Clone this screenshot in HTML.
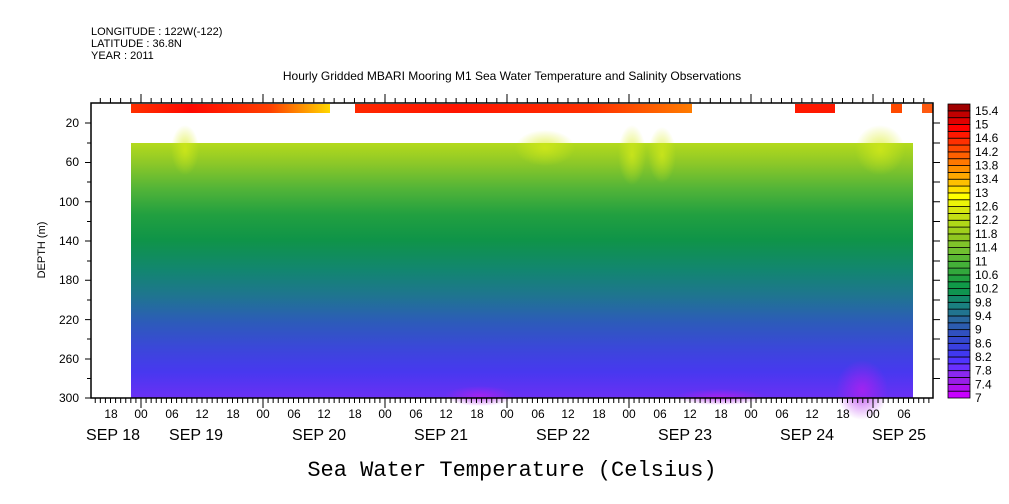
<!DOCTYPE html>
<html><head><meta charset="utf-8"><style>
body{margin:0;background:#fff;}
svg{display:block;font-family:"Liberation Sans",sans-serif;}
</style></head><body>
<svg width="1009" height="504" viewBox="0 0 1009 504" xmlns="http://www.w3.org/2000/svg">
<defs>
<linearGradient id="g" x1="0" y1="143" x2="0" y2="398" gradientUnits="userSpaceOnUse">
<stop offset="0" stop-color="#b4da1c"/>
<stop offset="0.08" stop-color="#8cc828"/>
<stop offset="0.18" stop-color="#52b438"/>
<stop offset="0.28" stop-color="#22a040"/>
<stop offset="0.38" stop-color="#0f9448"/>
<stop offset="0.5" stop-color="#128670"/>
<stop offset="0.6" stop-color="#1f7590"/>
<stop offset="0.7" stop-color="#2c5cb8"/>
<stop offset="0.8" stop-color="#3a48d8"/>
<stop offset="0.9" stop-color="#4838f0"/>
<stop offset="1" stop-color="#6a30f4"/>
</linearGradient>
<linearGradient id="s" x1="0" y1="0" x2="1" y2="0">
<stop offset="0" stop-color="#ff3000"/><stop offset="0.3" stop-color="#ff0800"/>
<stop offset="0.7" stop-color="#ff4000"/><stop offset="1" stop-color="#ffd800"/>
</linearGradient>
<radialGradient id="pp"><stop offset="0" stop-color="#b020f0" stop-opacity="0.8"/><stop offset="1" stop-color="#b020f0" stop-opacity="0"/></radialGradient>
<radialGradient id="yy"><stop offset="0" stop-color="#d8ec18" stop-opacity="0.7"/><stop offset="1" stop-color="#d8ec18" stop-opacity="0"/></radialGradient>
</defs>
<text x="91" y="35" font-size="11">LONGITUDE : 122W(-122)</text>
<text x="91" y="47" font-size="11">LATITUDE : 36.8N</text>
<text x="91" y="59" font-size="11">YEAR : 2011</text>
<text x="512" y="80" font-size="12" text-anchor="middle">Hourly Gridded MBARI Mooring M1 Sea Water Temperature and Salinity Observations</text>
<rect x="131" y="143" width="782" height="255" fill="url(#g)"/>
<ellipse cx="185" cy="150" rx="14" ry="25" fill="url(#yy)"/>
<ellipse cx="545" cy="148" rx="30" ry="18" fill="url(#yy)"/>
<ellipse cx="632" cy="155" rx="14" ry="30" fill="url(#yy)"/>
<ellipse cx="662" cy="155" rx="14" ry="28" fill="url(#yy)"/>
<ellipse cx="880" cy="150" rx="25" ry="25" fill="url(#yy)"/>
<ellipse cx="862" cy="390" rx="26" ry="30" fill="url(#pp)"/>
<ellipse cx="480" cy="396" rx="35" ry="10" fill="url(#pp)"/>
<ellipse cx="720" cy="397" rx="45" ry="8" fill="url(#pp)"/>
<rect x="131" y="104" width="199" height="9" fill="url(#s)"/>
<rect x="355" y="104" width="337" height="9" fill="#ff2000"/>
<rect x="355" y="104" width="337" height="9" fill="url(#s)" opacity="0.5"/>
<rect x="795" y="104" width="40" height="9" fill="#ff1800"/>
<rect x="891" y="104" width="11" height="9" fill="#ff4a00"/>
<rect x="922" y="104" width="11" height="9" fill="#ff5a10"/>
<rect x="91" y="103" width="842" height="295" fill="none" stroke="#000" stroke-width="1.5"/>
<g stroke="#000" stroke-width="1">
<path d="M85 123H91M85 162.5H91M85 201.7H91M85 241H91M85 280.3H91M85 319.6H91M85 359H91M85 398H91
M87 143H91M87 182H91M87 221.5H91M87 261H91M87 300H91M87 339H91M87 378.5H91
M933 123H940M933 143H940M933 162.5H940M933 182H940M933 201.7H940M933 221.5H940M933 241H940M933 261H940M933 280.3H940M933 300H940M933 319.6H940M933 339H940M933 359H940M933 378.5H940"/>
<line x1="94.75" y1="400.5" x2="933" y2="400.5" stroke-width="5" stroke-dasharray="1 4.083"/>
<line x1="99.8" y1="100.5" x2="933" y2="100.5" stroke-width="5" stroke-dasharray="1 9.167"/>
<path d="M141 398V408M263 398V408M385 398V408M507 398V408M629 398V408M751 398V408M873 398V408
M141 103V94M263 103V94M385 103V94M507 103V94M629 103V94M751 103V94M873 103V94"/>
</g>
<g font-size="12" text-anchor="end">
<text x="79" y="127">20</text><text x="79" y="166">60</text><text x="79" y="206">100</text>
<text x="79" y="245">140</text><text x="79" y="284">180</text><text x="79" y="324">220</text>
<text x="79" y="363">260</text><text x="79" y="402">300</text>
</g>
<text transform="translate(45,250) rotate(-90)" font-size="11" text-anchor="middle">DEPTH (m)</text>
<g font-size="12" text-anchor="middle">
<text x="111" y="418">18</text><text x="141" y="418">00</text><text x="172" y="418">06</text><text x="202" y="418">12</text><text x="233" y="418">18</text>
<text x="263" y="418">00</text><text x="294" y="418">06</text><text x="324" y="418">12</text><text x="355" y="418">18</text>
<text x="385" y="418">00</text><text x="416" y="418">06</text><text x="446" y="418">12</text><text x="477" y="418">18</text>
<text x="507" y="418">00</text><text x="538" y="418">06</text><text x="568" y="418">12</text><text x="599" y="418">18</text>
<text x="629" y="418">00</text><text x="660" y="418">06</text><text x="690" y="418">12</text><text x="721" y="418">18</text>
<text x="751" y="418">00</text><text x="782" y="418">06</text><text x="812" y="418">12</text><text x="843" y="418">18</text>
<text x="873" y="418">00</text><text x="904" y="418">06</text>
</g>
<g font-size="16" text-anchor="middle">
<text x="113" y="440">SEP 18</text><text x="196" y="440">SEP 19</text><text x="319" y="440">SEP 20</text>
<text x="441" y="440">SEP 21</text><text x="563" y="440">SEP 22</text><text x="685" y="440">SEP 23</text>
<text x="807" y="440">SEP 24</text><text x="899" y="440">SEP 25</text>
</g>
<text x="512" y="476" font-size="22" font-family="Liberation Mono, monospace" text-anchor="middle">Sea Water Temperature (Celsius)</text>
<g stroke="#000" stroke-width="0.8">
<rect x="948" y="391.16" width="22" height="6.84" fill="#c800ff"/>
<rect x="948" y="384.33" width="22" height="6.84" fill="#b010f0"/>
<rect x="948" y="377.49" width="22" height="6.84" fill="#9a1ee8"/>
<rect x="948" y="370.65" width="22" height="6.84" fill="#8a28f0"/>
<rect x="948" y="363.82" width="22" height="6.84" fill="#6a30ff"/>
<rect x="948" y="356.98" width="22" height="6.84" fill="#5034ff"/>
<rect x="948" y="350.14" width="22" height="6.84" fill="#4038f0"/>
<rect x="948" y="343.30" width="22" height="6.84" fill="#3a40e0"/>
<rect x="948" y="336.47" width="22" height="6.84" fill="#3448d0"/>
<rect x="948" y="329.63" width="22" height="6.84" fill="#3050c0"/>
<rect x="948" y="322.79" width="22" height="6.84" fill="#2c5cb0"/>
<rect x="948" y="315.96" width="22" height="6.84" fill="#2a68a0"/>
<rect x="948" y="309.12" width="22" height="6.84" fill="#217490"/>
<rect x="948" y="302.28" width="22" height="6.84" fill="#1a8080"/>
<rect x="948" y="295.45" width="22" height="6.84" fill="#13886a"/>
<rect x="948" y="288.61" width="22" height="6.84" fill="#0f9450"/>
<rect x="948" y="281.77" width="22" height="6.84" fill="#109a48"/>
<rect x="948" y="274.93" width="22" height="6.84" fill="#20a040"/>
<rect x="948" y="268.10" width="22" height="6.84" fill="#32a83c"/>
<rect x="948" y="261.26" width="22" height="6.84" fill="#44b038"/>
<rect x="948" y="254.42" width="22" height="6.84" fill="#5ab834"/>
<rect x="948" y="247.59" width="22" height="6.84" fill="#70c030"/>
<rect x="948" y="240.75" width="22" height="6.84" fill="#80c42a"/>
<rect x="948" y="233.91" width="22" height="6.84" fill="#90c820"/>
<rect x="948" y="227.08" width="22" height="6.84" fill="#a0d01c"/>
<rect x="948" y="220.24" width="22" height="6.84" fill="#b0d818"/>
<rect x="948" y="213.40" width="22" height="6.84" fill="#c4e014"/>
<rect x="948" y="206.56" width="22" height="6.84" fill="#d8e810"/>
<rect x="948" y="199.73" width="22" height="6.84" fill="#ecf408"/>
<rect x="948" y="192.89" width="22" height="6.84" fill="#ffff00"/>
<rect x="948" y="186.05" width="22" height="6.84" fill="#ffe000"/>
<rect x="948" y="179.22" width="22" height="6.84" fill="#ffc000"/>
<rect x="948" y="172.38" width="22" height="6.84" fill="#ffa800"/>
<rect x="948" y="165.54" width="22" height="6.84" fill="#ff9000"/>
<rect x="948" y="158.71" width="22" height="6.84" fill="#ff7800"/>
<rect x="948" y="151.87" width="22" height="6.84" fill="#ff6000"/>
<rect x="948" y="145.03" width="22" height="6.84" fill="#ff4800"/>
<rect x="948" y="138.19" width="22" height="6.84" fill="#ff3000"/>
<rect x="948" y="131.36" width="22" height="6.84" fill="#ff1800"/>
<rect x="948" y="124.52" width="22" height="6.84" fill="#ff0000"/>
<rect x="948" y="117.68" width="22" height="6.84" fill="#e00000"/>
<rect x="948" y="110.85" width="22" height="6.84" fill="#c00000"/>
<rect x="948" y="104.01" width="22" height="6.84" fill="#a00000"/>
</g>
<g font-size="12">
<text x="975" y="402">7</text><text x="975" y="388.3">7.4</text><text x="975" y="374.7">7.8</text>
<text x="975" y="361">8.2</text><text x="975" y="347.3">8.6</text><text x="975" y="333.6">9</text>
<text x="975" y="320">9.4</text><text x="975" y="306.3">9.8</text><text x="975" y="292.6">10.2</text>
<text x="975" y="278.9">10.6</text><text x="975" y="265.3">11</text><text x="975" y="251.6">11.4</text>
<text x="975" y="237.9">11.8</text><text x="975" y="224.2">12.2</text><text x="975" y="210.6">12.6</text>
<text x="975" y="196.9">13</text><text x="975" y="183.2">13.4</text><text x="975" y="169.5">13.8</text>
<text x="975" y="155.9">14.2</text><text x="975" y="142.2">14.6</text><text x="975" y="128.5">15</text>
<text x="975" y="114.8">15.4</text>
</g>
</svg>
</body></html>
